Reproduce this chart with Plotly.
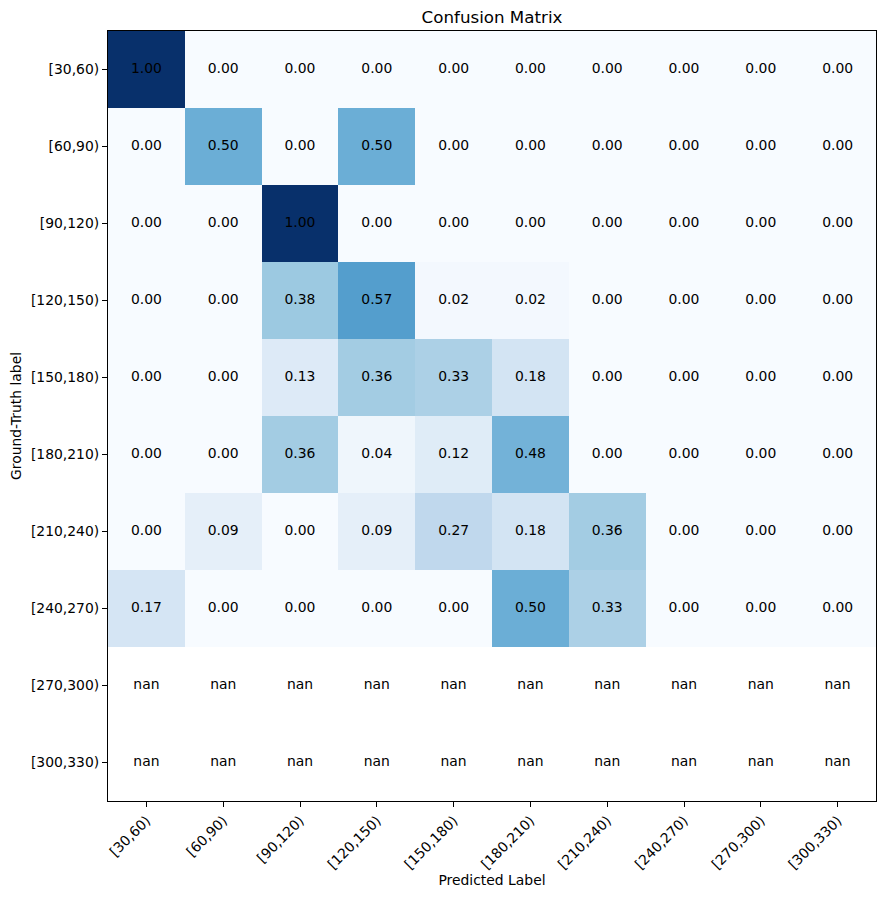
import numpy as np
import plotly.graph_objects as go

labels = ["[30,60)", "[60,90)", "[90,120)", "[120,150)", "[150,180)",
          "[180,210)", "[210,240)", "[240,270)", "[270,300)", "[300,330)"]

row_30_60 = [1.00, 0.00, 0.00, 0.00, 0.00, 0.00, 0.00, 0.00, 0.00, 0.00]
row_60_90 = [0.00, 0.50, 0.00, 0.50, 0.00, 0.00, 0.00, 0.00, 0.00, 0.00]
row_90_120 = [0.00, 0.00, 1.00, 0.00, 0.00, 0.00, 0.00, 0.00, 0.00, 0.00]
row_120_150 = [0.00, 0.00, 0.38, 0.57, 0.02, 0.02, 0.00, 0.00, 0.00, 0.00]
row_150_180 = [0.00, 0.00, 0.13, 0.36, 0.33, 0.18, 0.00, 0.00, 0.00, 0.00]
row_180_210 = [0.00, 0.00, 0.36, 0.04, 0.12, 0.48, 0.00, 0.00, 0.00, 0.00]
row_210_240 = [0.00, 0.09, 0.00, 0.09, 0.27, 0.18, 0.36, 0.00, 0.00, 0.00]
row_240_270 = [0.17, 0.00, 0.00, 0.00, 0.00, 0.50, 0.33, 0.00, 0.00, 0.00]
row_270_300 = [None] * 10
row_300_330 = [None] * 10

rows = [row_30_60, row_60_90, row_90_120, row_120_150, row_150_180,
        row_180_210, row_210_240, row_240_270, row_270_300, row_300_330]

blues = ["#f7fbff", "#deebf7", "#c6dbef", "#9ecae1", "#6baed6",
         "#4292c6", "#2171b5", "#08519c", "#08306b"]
colorscale = [[i / (len(blues) - 1), c] for i, c in enumerate(blues)]

z = [[np.nan if v is None else v for v in r] for r in rows]

FONT = "DejaVu Sans"
FS = 13.9

fig = go.Figure()
fig.add_trace(go.Heatmap(
    z=z, x=labels, y=labels, colorscale=colorscale, zmin=0, zmax=1,
    showscale=False, hoverongaps=False, xgap=0, ygap=0,
))

tx, ty, tt = [], [], []
for ri, r in enumerate(rows):
    for ci, v in enumerate(r):
        tx.append(labels[ci])
        ty.append(labels[ri])
        tt.append("nan" if v is None else f"{v:.2f}")
fig.add_trace(go.Scatter(
    x=tx, y=ty, text=tt, mode="text",
    textfont=dict(family=FONT, size=FS, color="black"),
    hoverinfo="skip", showlegend=False,
))

fig.update_layout(
    width=887, height=899,
    margin=dict(l=108, r=11, t=31, b=98, autoexpand=False),
    paper_bgcolor="white", plot_bgcolor="white",
    font=dict(family=FONT, size=FS, color="black"),
    title=dict(text="Confusion Matrix", xref="paper", x=0.5, xanchor="center",
               yref="container", y=1 - 17 / 899, yanchor="middle",
               font=dict(size=16.7, family=FONT, color="black")),
    showlegend=False,
)
fig.update_xaxes(
    type="category", tickangle=-45, ticks="outside", ticklen=5,
    tickcolor="black", showline=True, linecolor="black", linewidth=1,
    mirror=True, showgrid=False, zeroline=False,
    title=dict(text="Predicted Label", standoff=3, font=dict(size=FS)),
    tickfont=dict(size=FS), range=[-0.5, 9.5], automargin=False,
)
fig.update_yaxes(
    type="category", autorange=False, range=[9.5, -0.5],
    ticks="outside", ticklen=5, tickcolor="black",
    showline=True, linecolor="black", linewidth=1, mirror=True,
    showgrid=False, zeroline=False,
    title=dict(text="Ground-Truth label", standoff=6, font=dict(size=FS)),
    tickfont=dict(size=FS), automargin=False,
)

fig.write_html("out.html", config={"displayModeBar": False},
               post_script="document.body.style.margin='0';")
